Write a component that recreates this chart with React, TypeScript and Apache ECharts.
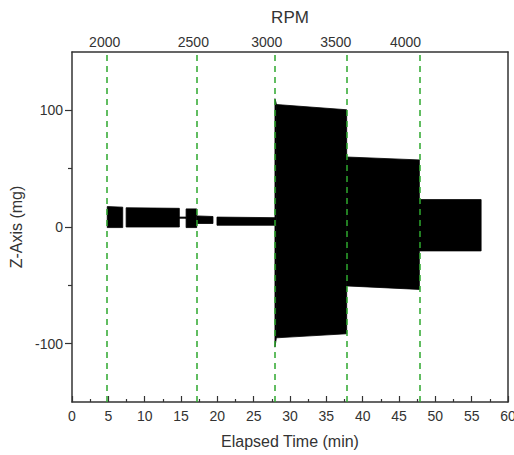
import React, { useEffect, useRef } from "react";
import * as echarts from "echarts";

// Envelope segments of the vibration signal (minutes, mg)
const segStart = [4.85, 7.45, 14.77, 15.7, 17.2, 19.95, 27.93, 28.1, 37.8, 47.8];
const segEnd = [6.98, 14.77, 15.7, 17.16, 19.4, 27.93, 28.1, 37.8, 47.8, 56.3];
const topStart = [17.5, 16.5, 8.5, 15.5, 9.5, 8.5, 110, 105, 60, 23.5];
const topEnd = [17, 16, 8.5, 15.5, 9, 8, 106, 100.5, 57.5, 23.5];
const botStart = [-0.5, 0, 7.5, -0.5, 3, 1.5, -103, -95, -50.5, -20.5];
const botEnd = [-0.5, 0, 7.5, -0.5, 3, 1.5, -96, -91.5, -53.5, -20.5];

// RPM change markers
const rpmLines = [4.8, 17.2, 27.9, 37.8, 47.8];
const rpmLabelPos = [4.5, 16.7, 26.8, 36.3, 45.9];
const rpmLabels = ["2000", "2500", "3000", "3500", "4000"];

const yMajor = [-100, 0, 100];
const yMinor = [-50, 50];

const FONT = "Liberation Sans";
const AX = "#333";

export default function App() {
  const ref = useRef<HTMLDivElement>(null);
  useEffect(() => {
    if (!ref.current) return;
    const chart = echarts.init(ref.current, undefined, { renderer: "svg" });
    const segData = segStart.map((s, i) => [s, segEnd[i], topStart[i], topEnd[i], botStart[i], botEnd[i]]);
    chart.setOption({
      animation: false,
      backgroundColor: "#fff",
      textStyle: { fontFamily: FONT },
      grid: { left: 72, right: 6, top: 52, bottom: 53, outerBoundsMode: "none" },
      xAxis: [
        {
          type: "value",
          position: "bottom",
          min: 0,
          max: 60,
          interval: 5,
          axisLine: { show: true, onZero: false, lineStyle: { color: AX, width: 1.5 } },
          axisTick: { show: true, inside: true, length: 6, lineStyle: { color: AX, width: 1.2 } },
          minorTick: { show: true, splitNumber: 2, length: 3, lineStyle: { color: AX, width: 1.2 } },
          splitLine: { show: false },
          axisLabel: { fontSize: 14, color: AX, margin: 7, fontFamily: FONT },
          name: "Elapsed Time (min)",
          nameLocation: "middle",
          nameGap: 31,
          nameTextStyle: { fontSize: 16, color: AX, fontFamily: FONT },
        },
        {
          type: "value",
          position: "top",
          min: 0,
          max: 60,
          axisLine: { show: true, onZero: false, lineStyle: { color: AX, width: 1.5 } },
          axisTick: { show: false },
          splitLine: { show: false },
          axisLabel: {
            show: true,
            customValues: rpmLabelPos,
            fontSize: 14,
            color: AX,
            margin: 3,
            fontFamily: FONT,
            formatter: (v: number) => {
              let best = 0;
              rpmLabelPos.forEach((p, i) => {
                if (Math.abs(p - v) < Math.abs(rpmLabelPos[best] - v)) best = i;
              });
              return rpmLabels[best];
            },
          },
          name: "RPM",
          nameLocation: "middle",
          nameGap: 26,
          nameTextStyle: { fontSize: 17, color: AX, fontFamily: FONT },
        },
      ],
      yAxis: [
        {
          type: "value",
          position: "left",
          min: -150,
          max: 150,
          interval: 50,
          offset: 0,
          axisLine: { show: true, onZero: false, lineStyle: { color: AX, width: 1.5 } },
          axisTick: { show: true, customValues: yMajor, length: 7, lineStyle: { color: AX, width: 1.2 } },
          splitLine: { show: false },
          axisLabel: { customValues: yMajor, fontSize: 14, color: AX, margin: 9, fontFamily: FONT },
          name: "Z-Axis (mg)",
          nameLocation: "middle",
          nameGap: 38,
          nameTextStyle: { fontSize: 16, color: AX, fontFamily: FONT },
        },
        {
          type: "value",
          position: "left",
          min: -150,
          max: 150,
          interval: 50,
          offset: 0,
          axisLine: { show: false, onZero: false },
          axisTick: { show: true, customValues: yMinor, length: 4, lineStyle: { color: AX, width: 1.2 } },
          splitLine: { show: false },
          axisLabel: { show: false },
        },
        {
          type: "value",
          position: "right",
          min: -150,
          max: 150,
          interval: 50,
          offset: 0,
          axisLine: { show: true, onZero: false, lineStyle: { color: AX, width: 1.5 } },
          axisTick: { show: false },
          splitLine: { show: false },
          axisLabel: { show: false },
        },
      ],
      series: [
        {
          type: "custom",
          xAxisIndex: 0,
          yAxisIndex: 0,
          data: segData,
          encode: { x: [0, 1], y: [2, 3, 4, 5] },
          renderItem: (params: any, api: any) => {
            const x0 = api.value(0);
            const x1 = api.value(1);
            const pts = [
              api.coord([x0, api.value(2)]),
              api.coord([x1, api.value(3)]),
              api.coord([x1, api.value(5)]),
              api.coord([x0, api.value(4)]),
            ];
            return {
              type: "polygon",
              shape: { points: pts },
              style: { fill: "#000", stroke: "#000", lineWidth: 0.8 },
            };
          },
          z: 2,
        },
        {
          type: "line",
          xAxisIndex: 0,
          yAxisIndex: 0,
          data: [],
          z: 3,
          markLine: {
            silent: true,
            symbol: "none",
            label: { show: false },
            lineStyle: { color: "#2ea82e", type: [6, 5], width: 1.5 },
            data: rpmLines.map((x) => ({ xAxis: x })),
          },
        },
      ],
    });
    return () => chart.dispose();
  }, []);
  return (
    <div
      ref={ref}
      style={{ position: "fixed", left: 0, top: 0, width: 514, height: 455, background: "#fff" }}
    />
  );
}
